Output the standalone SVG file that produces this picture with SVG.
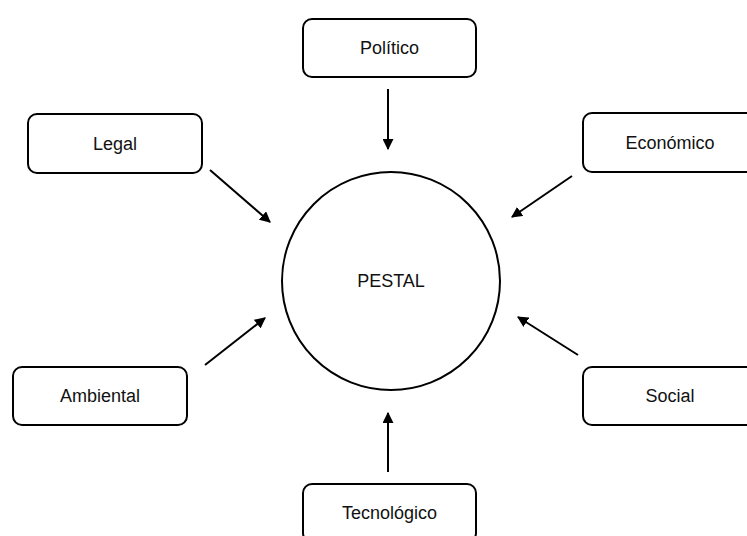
<svg xmlns="http://www.w3.org/2000/svg" width="747" height="536" viewBox="0 0 747 536">
<style>
.box{fill:#fff;stroke:#000;stroke-width:2}
.lbl{font-family:"Liberation Sans",Arial,sans-serif;font-size:18px;fill:#111;text-anchor:middle;dominant-baseline:central}
.con{stroke:#000;stroke-width:2;fill:none;marker-end:url(#ah)}
</style>
<defs>
<marker id="ah" viewBox="0 0 10 10" refX="9" refY="5" markerWidth="5.5" markerHeight="5.5" orient="auto" markerUnits="strokeWidth">
<path d="M0,0 L10,5 L0,10 Z" fill="#000"/>
</marker>
</defs>
<rect width="747" height="536" fill="#fff"/>
<g id="connectors">
<line class="con" x1="388" y1="89" x2="388" y2="149"/>
<line class="con" x1="210" y1="170" x2="270" y2="222"/>
<line class="con" x1="572" y1="176" x2="512" y2="217"/>
<line class="con" x1="205" y1="365" x2="265" y2="318"/>
<line class="con" x1="578" y1="355" x2="518" y2="317"/>
<line class="con" x1="388" y1="472" x2="388" y2="413"/>
</g>
<g id="pestal">
<circle cx="391" cy="281" r="109" fill="#fff" stroke="#000" stroke-width="2"/>
<text class="lbl" x="391" y="281">PESTAL</text>
</g>
<g id="politico">
<rect class="box" x="303" y="19" width="173" height="58" rx="9"/>
<text class="lbl" x="389.5" y="48">Político</text>
</g>
<g id="legal">
<rect class="box" x="28" y="114" width="174" height="59" rx="9"/>
<text class="lbl" x="115" y="143.5">Legal</text>
</g>
<g id="economico">
<rect class="box" x="583" y="113" width="174" height="59" rx="9"/>
<text class="lbl" x="670" y="142.5">Económico</text>
</g>
<g id="ambiental">
<rect class="box" x="13" y="367" width="174" height="58" rx="9"/>
<text class="lbl" x="100" y="396">Ambiental</text>
</g>
<g id="social">
<rect class="box" x="583" y="367" width="174" height="58" rx="9"/>
<text class="lbl" x="670" y="396">Social</text>
</g>
<g id="tecnologico">
<rect class="box" x="303" y="484" width="173" height="58" rx="9"/>
<text class="lbl" x="389.5" y="513">Tecnológico</text>
</g>
</svg>
